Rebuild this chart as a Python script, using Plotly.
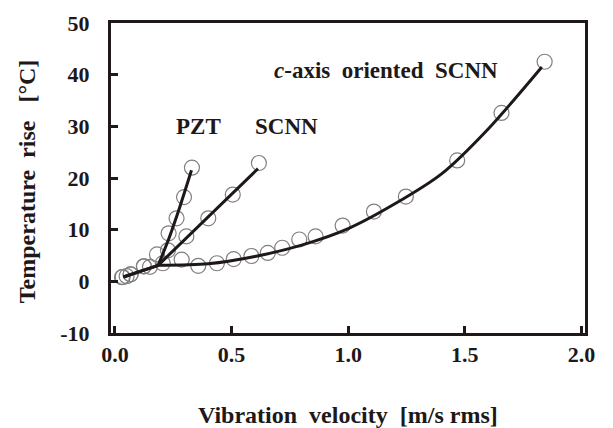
import plotly.graph_objects as go

pzt_x = [0.033, 0.067, 0.124, 0.18, 0.23, 0.264, 0.296, 0.33]
pzt_y = [0.84, 1.35, 2.9, 5.2, 9.3, 12.2, 16.3, 22.0]

scnn_x = [0.05, 0.15, 0.227, 0.306, 0.40, 0.505, 0.617]
scnn_y = [1.0, 2.8, 6.0, 8.7, 12.2, 16.8, 22.9]

caxis_x = [0.03, 0.067, 0.124, 0.205, 0.286, 0.357, 0.437, 0.509, 0.585, 0.655,
           0.717, 0.79, 0.86, 0.976, 1.11, 1.247, 1.467, 1.657, 1.842]
caxis_y = [0.8, 1.35, 2.9, 3.5, 4.2, 3.0, 3.5, 4.3, 4.9, 5.5,
           6.5, 8.1, 8.7, 10.8, 13.5, 16.4, 23.4, 32.6, 42.5]

# Fitted curves
fit_pzt_x = [0.036, 0.185, 0.228, 0.278, 0.328]
fit_pzt_y = [0.84, 3.1, 7.9, 14.4, 21.5]

fit_scnn_x = [0.036, 0.185, 0.613]
fit_scnn_y = [0.84, 3.1, 21.8]

fit_caxis_x = [0.036, 0.185, 0.4, 0.6, 0.8, 1.0, 1.2, 1.4, 1.6, 1.83]
fit_caxis_y = [0.84, 3.1, 3.4, 4.8, 7.0, 10.2, 15.0, 20.8, 29.5, 41.5]

x_ticks = [0.0, 0.5, 1.0, 1.5, 2.0]
x_tick_labels = ["0.0", "0.5", "1.0", "1.5", "2.0"]
y_ticks = [-10, 0, 10, 20, 30, 40, 50]
y_tick_labels = ["-10", "0", "10", "20", "30", "40", "50"]

FONT = "Liberation Serif"
INK = "#1e1818"
NB = "\u00a0"

fig = go.Figure()

marker = dict(symbol="circle-open", size=15, color="#808080", line=dict(width=1.2, color="#808080"))
for xs, ys in [(caxis_x, caxis_y), (scnn_x, scnn_y), (pzt_x, pzt_y)]:
    fig.add_trace(go.Scatter(x=xs, y=ys, mode="markers", marker=marker, showlegend=False))

fig.add_trace(go.Scatter(x=fit_caxis_x[:2], y=fit_caxis_y[:2], mode="lines",
                         line=dict(color=INK, width=3), showlegend=False))
fig.add_trace(go.Scatter(x=fit_caxis_x[1:], y=fit_caxis_y[1:], mode="lines",
                         line=dict(color=INK, width=3, shape="spline", smoothing=0.8), showlegend=False))
fig.add_trace(go.Scatter(x=fit_scnn_x, y=fit_scnn_y, mode="lines",
                         line=dict(color=INK, width=3), showlegend=False))
fig.add_trace(go.Scatter(x=fit_pzt_x[1:], y=fit_pzt_y[1:], mode="lines",
                         line=dict(color=INK, width=3, shape="spline", smoothing=0.6), showlegend=False))

font = dict(family=FONT, size=23, color=INK)
for txt, ax, ay in [("<b><i>c</i>-axis" + NB + " oriented" + NB + " SCNN</b>", 1.164, 40.8),
                    ("<b>PZT</b>", 0.358, 30.0),
                    ("<b>SCNN</b>", 0.734, 30.0)]:
    fig.add_annotation(x=ax, y=ay, text=txt, showarrow=False, font=font)

title_font = dict(family=FONT, size=24, color=INK)
fig.add_annotation(xref="paper", yref="paper", x=0.5, y=-0.266, yanchor="middle",
                   text="<b>Vibration" + NB + " velocity" + NB + " [m/s rms]</b>", showarrow=False, font=title_font)
fig.add_annotation(xref="paper", yref="paper", x=-0.177, y=0.49, xanchor="center", textangle=-90,
                   text="<b>Temperature" + NB + " rise" + NB + NB + " [°C]</b>", showarrow=False, font=title_font)

axis_common = dict(showline=True, linewidth=3, linecolor=INK, mirror=True,
                   ticks="inside", ticklen=7, tickwidth=3, tickcolor=INK,
                   showgrid=False, zeroline=False, automargin=False,
                   tickfont=dict(family=FONT, size=22, color=INK))

fig.update_xaxes(range=[-0.017, 2.015], tickvals=x_ticks, ticktext=["<b>%s</b>" % t for t in x_tick_labels],
                 ticklabelstandoff=0, **axis_common)
fig.update_yaxes(range=[-10, 50], tickvals=y_ticks, ticktext=["<b>%s</b>" % t for t in y_tick_labels],
                 ticklabelstandoff=14, **axis_common)

fig.update_layout(width=613, height=428, margin=dict(l=111, r=28, t=23, b=95),
                  plot_bgcolor="white", paper_bgcolor="white")

fig.write_html("out.html", config={"displayModeBar": False},
               post_script="document.body.style.margin='0';document.body.style.overflow='hidden';")
